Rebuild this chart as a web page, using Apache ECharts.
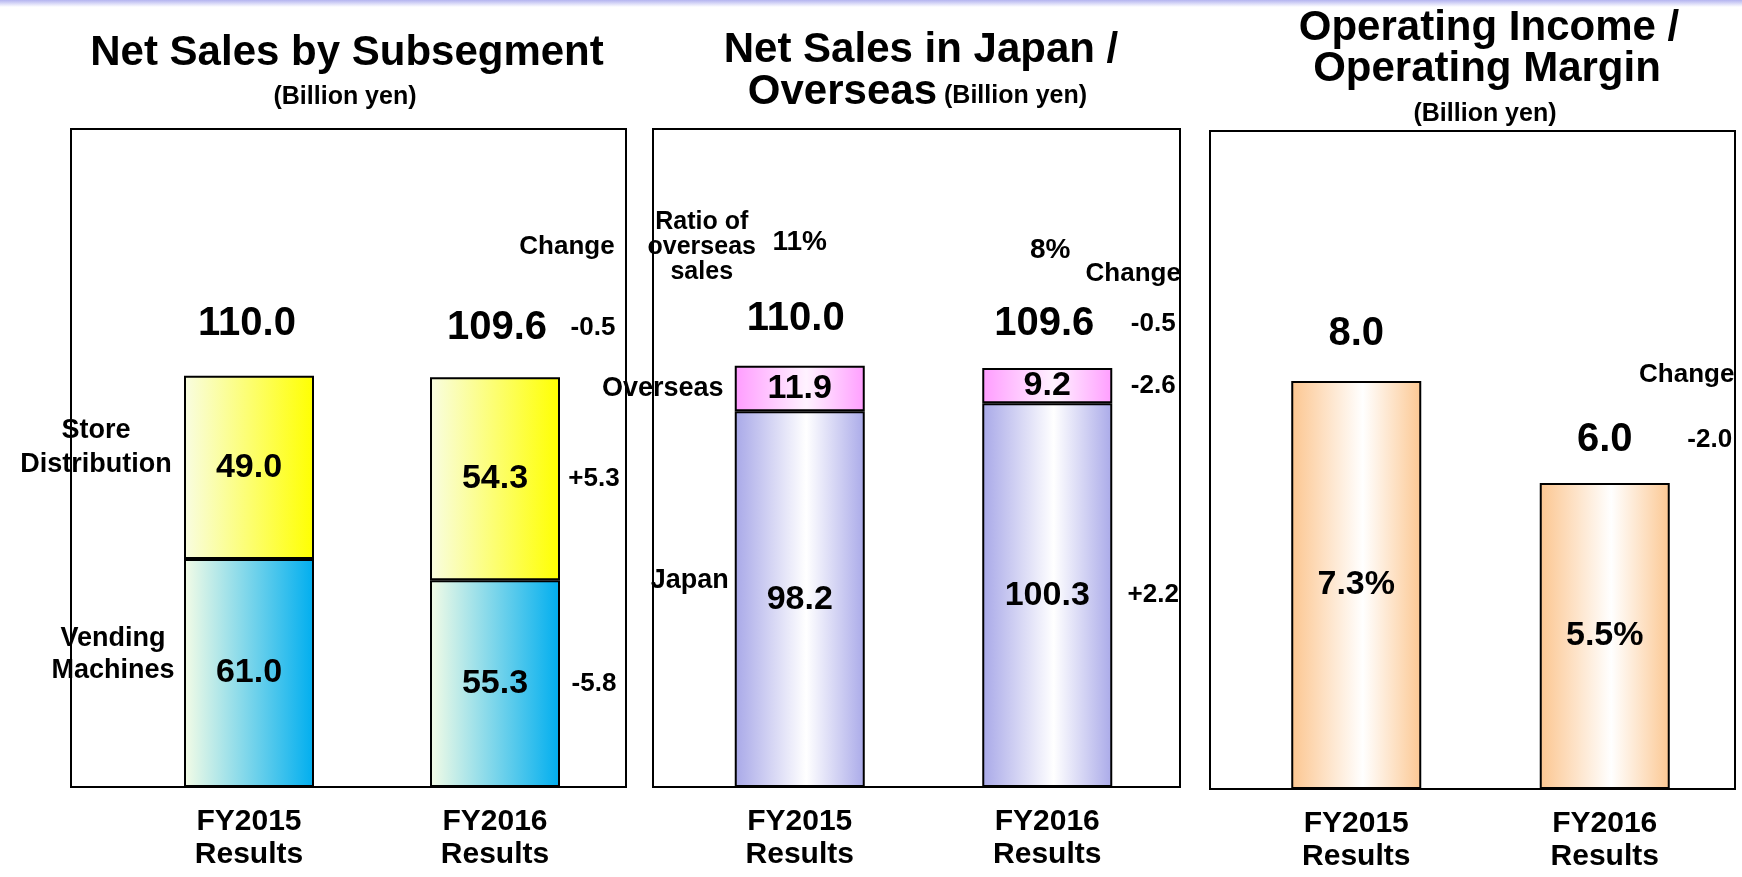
<!DOCTYPE html>
<html>
<head>
<meta charset="utf-8">
<script src="https://cdn.jsdelivr.net/npm/echarts@6/dist/echarts.min.js"></script>
<style>
html,body{margin:0;padding:0;background:#fff;}
#main{width:1742px;height:877px;}
</style>
</head>
<body>
<div id="main"></div>
<script>
// ---- data ----
const categories = ['FY2015\nResults', 'FY2016\nResults'];
const vendingMachines = [61.0, 55.3];
const storeDistribution = [49.0, 54.3];
const subsegmentTotal = [110.0, 109.6];
const subsegmentChange = ['-0.5', '+5.3', '-5.8']; // total, store, vending
const japanSales = [98.2, 100.3];
const overseasSales = [11.9, 9.2];
const regionTotal = [110.0, 109.6];
const overseasRatio = ['11%', '8%'];
const regionChange = ['-0.5', '-2.6', '+2.2']; // total, overseas, japan
const operatingIncome = [8.0, 6.0];
const operatingMargin = ['7.3%', '5.5%'];
const incomeChange = ['-2.0'];

const FONT = 'Liberation Sans, Arial, sans-serif';
const chart = echarts.init(document.getElementById('main'));

function grad(stops) {
  return {type: 'linear', x: 0, y: 0, x2: 1, y2: 0,
    colorStops: stops.map(s => ({offset: s[0], color: s[1]}))};
}
const cVending = grad([[0, '#f4fce6'], [1, '#00aeef']]);
const cStore = grad([[0, '#f9fde2'], [1, '#ffff00']]);
const cJapan = grad([[0, '#a8a8e8'], [0.55, '#ffffff'], [1, '#aaaae9']]);
const cOverseas = grad([[0, '#ff9cff'], [0.55, '#fff2ff'], [1, '#ff9eff']]);
const cIncome = grad([[0, '#fcc690'], [0.55, '#ffffff'], [1, '#fcc893']]);

function barSeries(gi, name, data, color, fmt, stack) {
  return {
    type: 'bar', name: name, xAxisIndex: gi, yAxisIndex: gi, stack: stack,
    data: data, barWidth: 130, silent: true,
    itemStyle: {color: color, borderColor: '#000', borderWidth: 2},
    label: {show: true, position: 'inside', color: '#000', fontFamily: FONT,
      fontWeight: 'bold', fontSize: 34, formatter: fmt}
  };
}
function ann(gi, items) {
  return {
    type: 'scatter', xAxisIndex: gi, yAxisIndex: gi, silent: true, z: 10,
    symbolSize: 1, itemStyle: {color: 'rgba(0,0,0,0)', opacity: 1},
    data: items.map(it => ({
      value: [it.x, it.y],
      label: {show: true, position: 'inside', formatter: it.text, offset: it.offset,
        color: '#000', opacity: 1, fontFamily: FONT, fontWeight: 'bold', fontSize: it.size,
        lineHeight: it.lh || it.size, align: 'center'}
    }))
  };
}

const grids = [
  {left: 126, width: 492, top: 129, height: 658},
  {left: 676, width: 495, top: 129, height: 658},
  {left: 1232, width: 497, top: 131, height: 658}
];
const yMax = [176, 172, 12.9];

const xAxes = grids.map((g, i) => ({
  type: 'category', gridIndex: i, data: categories,
  axisLine: {show: false}, axisTick: {show: false},
  axisLabel: {color: '#000', fontFamily: FONT, fontWeight: 'bold', fontSize: 30,
    lineHeight: 33, margin: 18}
}));
const yAxes = grids.map((g, i) => ({
  type: 'value', gridIndex: i, min: 0, max: yMax[i], show: false
}));

const fmt1 = p => p.value.toFixed(1);

const series = [
  // Panel 1
  barSeries(0, 'Vending Machines', vendingMachines, cVending, fmt1, 'p1'),
  barSeries(0, 'Store Distribution', storeDistribution, cStore, fmt1, 'p1'),
  ann(0, [
    {x: 0, y: subsegmentTotal[0], text: subsegmentTotal[0].toFixed(1), offset: [-2, -52], size: 40},
    {x: 1, y: subsegmentTotal[1], text: subsegmentTotal[1].toFixed(1), offset: [2, -49], size: 40},
    {x: 1, y: subsegmentTotal[1], text: 'Change', offset: [72, -130], size: 26},
    {x: 1, y: subsegmentTotal[1], text: subsegmentChange[0], offset: [98, -49], size: 26},
    {x: 1, y: vendingMachines[1] + storeDistribution[1] / 2, text: subsegmentChange[1], offset: [99, 0], size: 26},
    {x: 1, y: vendingMachines[1] / 2, text: subsegmentChange[2], offset: [99, 0], size: 26},
    {x: 0, y: vendingMachines[0] + storeDistribution[0] / 2, text: 'Store\nDistribution', offset: [-153, -20], size: 27, lh: 34},
    {x: 0, y: vendingMachines[0] / 2, text: 'Vending\nMachines', offset: [-136, -18], size: 27, lh: 32}
  ]),
  // Panel 2
  barSeries(1, 'Japan', japanSales, cJapan, fmt1, 'p2'),
  barSeries(1, 'Overseas', overseasSales, cOverseas, fmt1, 'p2'),
  ann(1, [
    {x: 0, y: regionTotal[0], text: regionTotal[0].toFixed(1), offset: [-4, -47], size: 40},
    {x: 1, y: regionTotal[1], text: regionTotal[1].toFixed(1), offset: [-3, -44], size: 40},
    {x: 0, y: regionTotal[0], text: overseasRatio[0], offset: [0, -124], size: 28},
    {x: 1, y: regionTotal[1], text: overseasRatio[1], offset: [3, -117], size: 28},
    {x: 0, y: regionTotal[0], text: 'Ratio of\noverseas\nsales', offset: [-98, -119], size: 25, lh: 25},
    {x: 1, y: regionTotal[1], text: 'Change', offset: [86, -94], size: 26},
    {x: 1, y: regionTotal[1], text: regionChange[0], offset: [106, -44], size: 26},
    {x: 1, y: japanSales[1] + overseasSales[1] / 2, text: regionChange[1], offset: [106, 0], size: 26},
    {x: 1, y: japanSales[1] / 2, text: regionChange[2], offset: [106, 0], size: 26},
    {x: 0, y: japanSales[0] + overseasSales[0] / 2, text: 'Overseas', offset: [-137, 0], size: 27},
    {x: 0, y: japanSales[0] / 2, text: 'Japan', offset: [-110, -19], size: 27}
  ]),
  // Panel 3
  barSeries(2, 'Operating Income', operatingIncome, cIncome,
    p => operatingMargin[p.dataIndex], undefined),
  ann(2, [
    {x: 0, y: operatingIncome[0], text: operatingIncome[0].toFixed(1), offset: [0, -47], size: 40},
    {x: 1, y: operatingIncome[1], text: operatingIncome[1].toFixed(1), offset: [0, -43], size: 40},
    {x: 1, y: operatingIncome[1], text: 'Change', offset: [82, -108], size: 26},
    {x: 1, y: operatingIncome[1], text: incomeChange[0], offset: [105, -43], size: 26}
  ])
];

function txt(x, y, text, size, align) {
  return {type: 'text', x: x, y: y, silent: true, z: 20,
    style: {text: text, font: 'bold ' + size + 'px ' + FONT, fill: '#000',
      align: align || 'center', verticalAlign: 'middle'}};
}
function box(x, y, w, h) {
  return {type: 'rect', shape: {x: x, y: y, width: w, height: h}, silent: true, z: 0,
    style: {fill: null, stroke: '#000', lineWidth: 2}};
}

const graphic = [
  {type: 'rect', shape: {x: 0, y: 0, width: 1742, height: 7}, silent: true,
    style: {fill: {type: 'linear', x: 0, y: 0, x2: 0, y2: 1,
      colorStops: [{offset: 0, color: '#b4b4f0'}, {offset: 1, color: '#ffffff'}]}}},
  box(71, 129, 555, 658),
  box(653, 129, 527, 658),
  box(1210, 131, 525, 658),
  txt(347, 53, 'Net Sales by Subsegment', 42),
  txt(345, 97, '(Billion yen)', 25),
  txt(921, 50, 'Net Sales in Japan /', 42),
  txt(937, 92, 'Overseas', 42, 'right'),
  txt(944, 96, '(Billion yen)', 25, 'left'),
  txt(1489, 28, 'Operating Income /', 42),
  txt(1487, 69, 'Operating Margin', 42),
  txt(1485, 114, '(Billion yen)', 25)
];

chart.setOption({
  backgroundColor: '#fff',
  animation: false,
  grid: grids,
  xAxis: xAxes,
  yAxis: yAxes,
  series: series,
  graphic: graphic
});
</script>
</body>
</html>
